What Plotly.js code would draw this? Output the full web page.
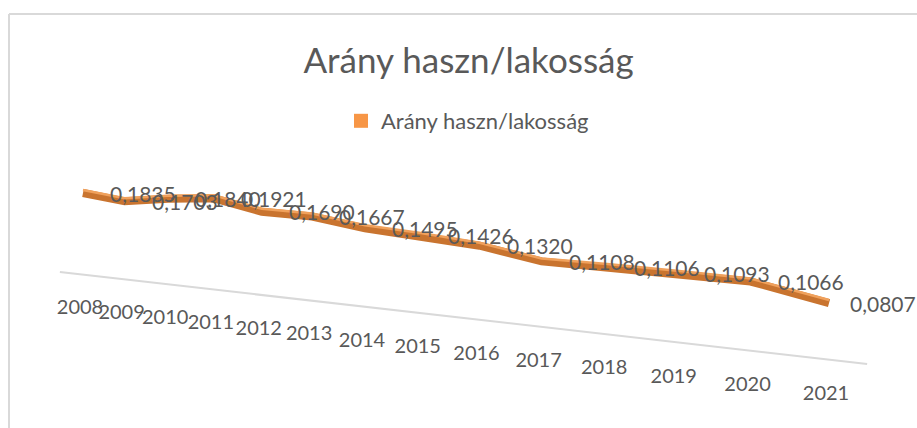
<!DOCTYPE html>
<html>
<head>
<meta charset="utf-8">
<script src="https://cdn.plot.ly/plotly-3.0.1.min.js"></script>
<style>html,body{margin:0;padding:0;background:#fff;}#chart{width:917px;height:428px;}</style>
</head>
<body>
<div id="chart"></div>
<script>
// ---- data ----
var years = ['2008','2009','2010','2011','2012','2013','2014','2015','2016','2017','2018','2019','2020','2021'];
var ratio = [0.1835,0.1703,0.1840,0.1921,0.1690,0.1667,0.1495,0.1426,0.1320,0.1108,0.1106,0.1093,0.1066,0.0807];
var valueLabels = ['0,1835','0,1703','0,1840','0,1921','0,1690','0,1667','0,1495','0,1426','0,1320','0,1108','0,1106','0,1093','0,1066','0,0807'];
var seriesName = 'Arány haszn/lakosság';
var chartTitle = 'Arány haszn/lakosság';

// ---- perspective projection of the 3D category plane onto the page ----
var C = -0.02238;
function w(u){ return 1 + C*u; }
function px(u){ return (80 + 38.9*u)/w(u); }
function pyFloor(u){ return (274.3 - 1.503*u)/w(u); }
function pySeries(u, v){ return (266.9 - 1.503*u - 402.7*v)/w(u); }
function pyTick(u){ return (309 - 2.22*u)/w(u); }

var n = years.length;
var idx = years.map(function(_, i){ return i; });

var lineX = idx.map(function(i){ return px(i) + 3; });
var lineY = idx.map(function(i){ return pySeries(i, ratio[i]); });
var topY = lineY.map(function(y){ return y - 3; });

var floorX = [px(-0.5), px(n - 0.5)];
var floorY = [pyFloor(-0.5), pyFloor(n - 0.5)];

var tickX = idx.map(function(i){ return px(i); });
var tickY = idx.map(function(i){ return pyTick(i); });

var textColor = '#595959';
var font = 'Lato, "Open Sans", sans-serif';

var traces = [
  {x: floorX, y: floorY, mode: 'lines', line: {color: '#d9d9d9', width: 2}, showlegend: false, hoverinfo: 'skip'},
  {x: lineX, y: lineY, mode: 'lines', line: {color: '#c9742f', width: 8}, showlegend: false, hoverinfo: 'skip'},
  {x: lineX, y: topY, mode: 'lines', line: {color: '#f0a15c', width: 2.5}, showlegend: false, hoverinfo: 'skip'},
  {x: tickX, y: tickY, mode: 'text', text: years, textposition: 'middle center',
   textfont: {family: font, size: 20, color: textColor}, showlegend: false, hoverinfo: 'skip'},
  {x: [null], y: [null], mode: 'markers', name: seriesName,
   marker: {symbol: 'square', size: 14, color: '#f79646'}, showlegend: true}
];

var annotations = idx.map(function(i){
  return {x: Math.min(lineX[i] + 60, 883), y: lineY[i], xref: 'x', yref: 'y',
          text: valueLabels[i], showarrow: false, xanchor: 'center', yanchor: 'middle',
          font: {family: font, size: 21, color: textColor}};
});

var layout = {
  width: 917, height: 428, autosize: false,
  margin: {l: 0, r: 0, t: 0, b: 0},
  paper_bgcolor: '#ffffff', plot_bgcolor: '#ffffff',
  xaxis: {range: [0, 917], visible: false, fixedrange: true},
  yaxis: {range: [428, 0], visible: false, fixedrange: true},
  title: {text: chartTitle, x: 0.511, xanchor: 'center', y: 1 - 61/428, yanchor: 'middle',
          font: {family: font, size: 35, color: textColor}},
  showlegend: true,
  legend: {x: 341/917, xanchor: 'left', y: 1 - 121/428, yanchor: 'middle',
           font: {family: font, size: 22, color: textColor}, bgcolor: 'rgba(0,0,0,0)'},
  annotations: annotations,
  shapes: [
    {type: 'line', xref: 'x', yref: 'y', x0: 9, x1: 917, y0: 14, y1: 14, line: {color: '#d9d9d9', width: 2}},
    {type: 'line', xref: 'x', yref: 'y', x0: 9, x1: 9, y0: 14, y1: 428, line: {color: '#d9d9d9', width: 2}}
  ]
};

Plotly.newPlot('chart', traces, layout, {staticPlot: true, displayModeBar: false});
</script>
</body>
</html>
